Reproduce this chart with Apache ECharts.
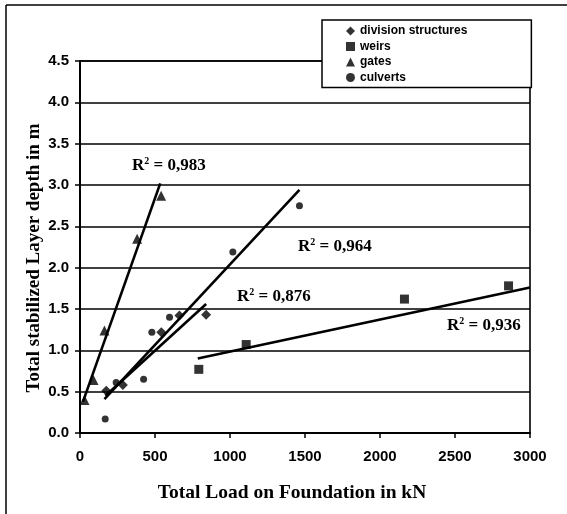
<!DOCTYPE html>
<html>
<head>
<meta charset="utf-8">
<script src="https://cdn.jsdelivr.net/npm/echarts@6/dist/echarts.min.js"></script>
<style>
html,body{margin:0;padding:0;background:#fff;}
#c{width:567px;height:514px;}
</style>
</head>
<body>
<div id="c"></div>
<script>
// ---- data ----
const xTicks = [0, 500, 1000, 1500, 2000, 2500, 3000];
const yTicks = [0.0, 0.5, 1.0, 1.5, 2.0, 2.5, 3.0, 3.5, 4.0, 4.5];
const seriesNames = ['division structures', 'weirs', 'gates', 'culverts'];
const divisionPts = [[175,0.51],[286,0.58],[542,1.22],[663,1.42],[841,1.43]];
const weirsPts = [[792,0.77],[1108,1.07],[2163,1.62],[2857,1.78]];
const gatesPts = [[30,0.40],[90,0.64],[163,1.24],[381,2.35],[541,2.87]];
const culvertsPts = [[168,0.17],[241,0.61],[424,0.65],[479,1.22],[597,1.40],[1019,2.19],[1463,2.75]];
// trendline end points
const gatesTrend = [[20,0.38],[535,3.02]];
const culvertsTrend = [[163,0.41],[1463,2.94]];
const divisionTrend = [[170,0.45],[841,1.56]];
const weirsTrend = [[785,0.90],[3000,1.76]];
const r2Labels = ['0,983', '0,964', '0,876', '0,936'];
const xTitle = 'Total Load on Foundation in kN';
const yTitle = 'Total stabilized Layer depth in m';

const chart = echarts.init(document.getElementById('c'), null, {renderer:'canvas'});
const SANS = '"Liberation Sans", Arial, sans-serif';
const SERIF = '"Liberation Serif", "Times New Roman", serif';

function trend(name, pts){
  return {name: name + ' trend', type:'line', data: pts, symbol:'none', silent:true,
    lineStyle:{color:'#000', width:2.6}, z:3, animation:false};
}
function pts(name, data, symbol, size){
  return {name:name, type:'scatter', data:data, symbol:symbol, symbolSize:size,
    itemStyle:{color:'#000'}, z:4, animation:false};
}
function r2(txt, x, y){
  return {type:'text', left:x, top:y, z:10,
    style:{text:'R{s|2} = ' + txt, fill:'#000', font:'bold 17px ' + SERIF,
      rich:{s:{fontSize:10, fontWeight:'bold', fontFamily:SERIF, padding:[0,0,9,0]}}}};
}

const option = {
  animation:false,
  backgroundColor:'#fff',
  grid:{left:80, right:37, top:61, bottom:81, show:true, borderColor:'#000', borderWidth:1.6},
  xAxis:{type:'value', min:xTicks[0], max:xTicks[xTicks.length-1], interval:500,
    axisLine:{show:true, lineStyle:{color:'#000', width:2}},
    axisTick:{show:true, inside:false, length:5, lineStyle:{color:'#000', width:1.5}},
    splitLine:{show:false},
    axisLabel:{color:'#000', fontFamily:SANS, fontWeight:'bold', fontSize:15, margin:16,
      formatter:v=>String(v)}},
  yAxis:{type:'value', min:yTicks[0], max:yTicks[yTicks.length-1], interval:0.5,
    axisLine:{show:true, lineStyle:{color:'#000', width:2}},
    axisTick:{show:true, inside:false, length:5, lineStyle:{color:'#000', width:1.5}},
    splitLine:{show:true, lineStyle:{color:'#000', width:1.6}},
    axisLabel:{color:'#000', fontFamily:SANS, fontWeight:'bold', fontSize:15, margin:11,
      formatter:v=>v.toFixed(1)}},
  legend:{data:seriesNames, orient:'vertical', left:322, top:20,
    backgroundColor:'#fff', borderColor:'#000', borderWidth:1.5,
    padding:[5,64,4,24], itemWidth:9, itemHeight:9, itemGap:3.5, itemStyle:{color:'#000'},
    textStyle:{color:'#000', fontFamily:SANS, fontWeight:'bold', fontSize:12, lineHeight:12}},
  graphic:[
    {type:'line', shape:{x1:6, y1:5, x2:567, y2:5}, style:{stroke:'#000', lineWidth:1.5}},
    {type:'line', shape:{x1:6, y1:5, x2:6, y2:514}, style:{stroke:'#000', lineWidth:1.5}},
    {type:'text', x:292, y:493, z:10,
      style:{text:xTitle, fill:'#000', font:'bold 19.5px ' + SERIF, textAlign:'center', textVerticalAlign:'middle'}},
    {type:'text', x:34, y:258, rotation:Math.PI/2, z:10,
      style:{text:yTitle, fill:'#000', font:'bold 19px ' + SERIF, textAlign:'center', textVerticalAlign:'middle'}},
    r2(r2Labels[0], 132, 156),
    r2(r2Labels[1], 298, 237),
    r2(r2Labels[2], 237, 287),
    r2(r2Labels[3], 447, 316)
  ],
  series:[
    pts(seriesNames[0], divisionPts, 'diamond', 10),
    pts(seriesNames[1], weirsPts, 'rect', 9),
    pts(seriesNames[2], gatesPts, 'triangle', 10),
    pts(seriesNames[3], culvertsPts, 'circle', 7),
    trend('gates', gatesTrend),
    trend('culverts', culvertsTrend),
    trend('division', divisionTrend),
    trend('weirs', weirsTrend)
  ]
};
chart.setOption(option);
</script>
</body>
</html>
